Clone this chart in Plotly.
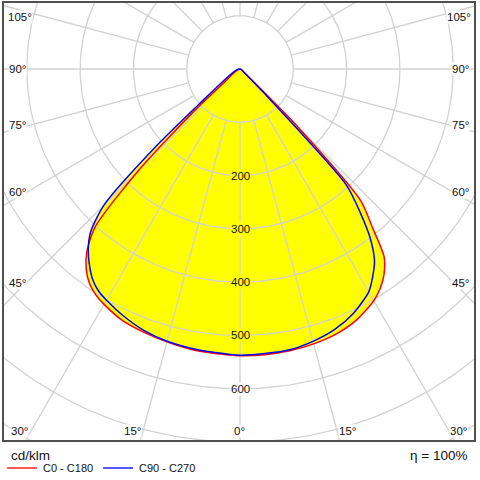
import numpy as np
import plotly.graph_objects as go

# light distribution curve, cd/klm over gamma angle (0 = straight down)
angles = [0, 5, 10, 15, 20, 25, 30, 32.5, 35, 37.5, 40, 42.5, 45, 47.5, 50, 55, 60, 70, 80, 90]
c0 = [538, 538, 537, 534, 529, 519, 502, 489, 471, 444, 385, 335, 150, 22, 10, 5, 3, 2, 1, 0]
c180 = [538, 536, 534, 530, 526, 521, 510, 503, 492, 474, 447, 403, 270, 115, 35, 18, 10, 4, 2, 0]
c90 = [537, 536, 535, 529, 520, 505, 483, 463, 440, 402, 350, 295, 60, 20, 10, 6, 4, 2, 1, 0]
c270 = [537, 534, 532, 529, 523, 513, 501, 494, 482, 464, 443, 415, 360, 205, 85, 35, 20, 8, 3, 0]

rings = [100, 200, 300, 400, 500, 600, 700, 800]
ring_labels = [200, 300, 400, 500, 600]
spokes = list(range(0, 360, 15))

# angle labels along the frame: text, paper x, paper y
angle_labels = [
    ('105°', 0.036, 0.966), ('90°', 0.03, 0.847), ('75°', 0.03, 0.720),
    ('60°', 0.03, 0.567), ('45°', 0.03, 0.360), ('30°', 0.036, 0.023),
    ('105°', 0.966, 0.966), ('90°', 0.97, 0.847), ('75°', 0.97, 0.720),
    ('60°', 0.97, 0.567), ('45°', 0.97, 0.360), ('30°', 0.964, 0.023),
    ('15°', 0.275, 0.023), ('0°', 0.502, 0.023), ('15°', 0.729, 0.023),
]

FONT = 'Liberation Sans, Arial, sans-serif'
TXT = '#111111'
GRID = '#d2d2d2'


def curve_xy(right, left):
    t = np.radians(angles)
    r = np.array(right, float)
    l = np.array(left, float)
    x = np.concatenate([r * np.sin(t), (-l * np.sin(t))[::-1]])
    y = np.concatenate([-r * np.cos(t), (-l * np.cos(t))[::-1]])
    return x, y


fig = go.Figure()

red_x, red_y = curve_xy(c0, c180)
blue_x, blue_y = curve_xy(c90, c270)

# yellow area = union of both planes
for cx, cy in [(red_x, red_y), (blue_x, blue_y)]:
    fig.add_trace(go.Scatter(x=cx, y=cy, mode='lines', fill='toself', fillcolor='#ffff00',
                             line=dict(width=0, shape='spline', smoothing=0.7),
                             hoverinfo='skip', showlegend=False))

# grid circles
phi = np.linspace(0, 2 * np.pi, 361)
gx, gy = [], []
for rv in rings:
    gx += list(rv * np.cos(phi)) + [None]
    gy += list(rv * np.sin(phi)) + [None]
# spokes from the 100 ring outwards
for a in spokes:
    ar = np.radians(a)
    gx += [100 * np.sin(ar), 1200 * np.sin(ar), None]
    gy += [-100 * np.cos(ar), -1200 * np.cos(ar), None]
fig.add_trace(go.Scatter(x=gx, y=gy, mode='lines', line=dict(color=GRID, width=1.3),
                         hoverinfo='skip', showlegend=False))

fig.add_trace(go.Scatter(x=red_x, y=red_y, mode='lines', name='C0 - C180',
                         line=dict(color='#ff0000', width=1.5, shape='spline', smoothing=0.7),
                         showlegend=False))
fig.add_trace(go.Scatter(x=blue_x, y=blue_y, mode='lines', name='C90 - C270',
                         line=dict(color='#0000ff', width=1.5, shape='spline', smoothing=0.7),
                         showlegend=False))

for v in ring_labels:
    fig.add_annotation(x=0, y=-v, text=str(v), showarrow=False,
                       xanchor='center', yanchor='middle',
                       font=dict(size=11.5, color=TXT, family=FONT),
                       bgcolor='#ffff00' if v < 530 else 'white', borderpad=0)

for txt, px, py in angle_labels:
    fig.add_annotation(x=px, y=py, xref='paper', yref='paper', text=txt, showarrow=False,
                       xanchor='center', yanchor='middle',
                       font=dict(size=11.5, color=TXT, family=FONT),
                       bgcolor='white', borderpad=0)

# footer: unit, efficiency and line key
fig.add_annotation(x=0.0127, y=-0.032, xref='paper', yref='paper', text='cd/klm',
                   showarrow=False, xanchor='left', yanchor='middle',
                   font=dict(size=13.5, color=TXT, family=FONT))
fig.add_annotation(x=0.988, y=-0.032, xref='paper', yref='paper', text='η = 100%',
                   showarrow=False, xanchor='right', yanchor='middle',
                   font=dict(size=13.5, color=TXT, family=FONT))
fig.add_shape(type='line', xref='paper', yref='paper', x0=0.0085, x1=0.072, y0=-0.0615, y1=-0.0615,
              line=dict(color='#ff0000', width=1.3))
fig.add_annotation(x=0.0805, y=-0.0615, xref='paper', yref='paper', text='C0 - C180',
                   showarrow=False, xanchor='left', yanchor='middle',
                   font=dict(size=11, color=TXT, family=FONT))
fig.add_shape(type='line', xref='paper', yref='paper', x0=0.212, x1=0.2754, y0=-0.0615, y1=-0.0615,
              line=dict(color='#0000ff', width=1.3))
fig.add_annotation(x=0.2839, y=-0.0615, xref='paper', yref='paper', text='C90 - C270',
                   showarrow=False, xanchor='left', yanchor='middle',
                   font=dict(size=11, color=TXT, family=FONT))

# frame
fig.add_shape(type='rect', xref='paper', yref='paper', x0=0, x1=1, y0=0, y1=1,
              line=dict(color='#505050', width=2), layer='above')

fig.update_xaxes(visible=False, range=[-444.7, 440.9], fixedrange=True)
fig.update_yaxes(visible=False, range=[-698, 125.7], fixedrange=True)
fig.update_layout(
    width=480, height=480,
    paper_bgcolor='white',
    plot_bgcolor='white',
    margin=dict(l=3, r=5, t=2, b=39),
    font={'color': TXT, 'family': FONT},
    showlegend=False,
)

# page body has a default 8px margin, drop it so the figure sits at 0,0
fig.write_html("out.html", config={'displayModeBar': False},
               post_script="document.body.style.margin='0';")
